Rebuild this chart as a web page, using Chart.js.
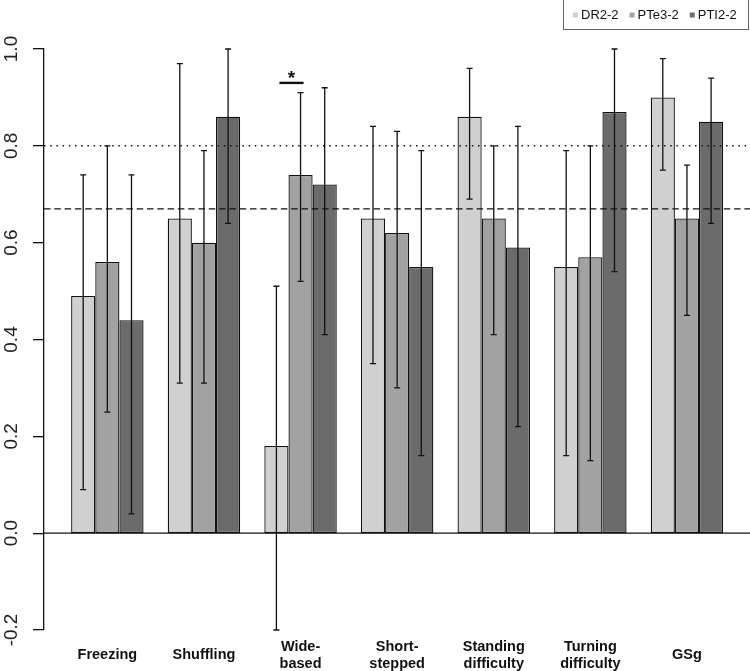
<!DOCTYPE html>
<html>
<head>
<meta charset="utf-8">
<script src="https://cdn.jsdelivr.net/npm/chart.js@4.4.1/dist/chart.umd.min.js"></script>
<style>
html, body { margin: 0; padding: 0; background: #fff; }
#wrap { width: 750px; height: 671px; position: relative; }
</style>
</head>
<body>
<div id="wrap"><canvas id="gaitChart"></canvas></div>
<script>
const categories = ['Freezing', 'Shuffling', ['Wide-', 'based'], ['Short-', 'stepped'], ['Standing', 'difficulty'], ['Turning', 'difficulty'], 'GSg']
const seriesNames = ['DR2-2', 'PTe3-2', 'PTI2-2']
const seriesColors = ['#d0d0d0', '#a2a2a2', '#6b6b6b']

const dr = [0.49, 0.65, 0.18, 0.65, 0.86, 0.55, 0.90]
const drLow = [0.09, 0.31, -0.20, 0.35, 0.69, 0.16, 0.75]
const drHigh = [0.74, 0.97, 0.51, 0.84, 0.96, 0.79, 0.98]

const pte = [0.56, 0.60, 0.74, 0.62, 0.65, 0.57, 0.65]
const pteLow = [0.25, 0.31, 0.52, 0.30, 0.41, 0.15, 0.45]
const pteHigh = [0.80, 0.79, 0.91, 0.83, 0.80, 0.80, 0.76]

const pti = [0.44, 0.86, 0.72, 0.55, 0.59, 0.87, 0.85]
const ptiLow = [0.04, 0.64, 0.41, 0.16, 0.22, 0.54, 0.64]
const ptiHigh = [0.74, 1.00, 0.92, 0.79, 0.84, 1.00, 0.94]

const yTicks = [-0.2, 0, 0.2, 0.4, 0.6, 0.8, 1.0]
const yTickLabels = ['-0.2', '0.0', '0.2', '0.4', '0.6', '0.8', '1.0']

const dottedLevel = 0.8
const dashedLevel = 0.67

// significance bracket: group, first bar, second bar, level, mark
const sigGroup = 2
const sigBars = [0, 1]
const sigLevel = 0.93
const sigMark = '*'

const values = [dr, pte, pti]
const lows = [drLow, pteLow, ptiLow]
const highs = [drHigh, pteHigh, ptiHigh]

const ink = '#111'

const overlay = {
	id: 'overlay',
	afterDatasetsDraw(chart) {
		const { ctx, chartArea, scales } = chart
		const y = scales.y
		ctx.save()
		ctx.strokeStyle = ink

		// zero line
		ctx.lineWidth = 1.3
		ctx.beginPath()
		ctx.moveTo(chartArea.left, y.getPixelForValue(0))
		ctx.lineTo(chartArea.right, y.getPixelForValue(0))
		ctx.stroke()

		// reference lines
		ctx.lineWidth = 1.5
		ctx.setLineDash([1.5, 4.7])
		ctx.beginPath()
		ctx.moveTo(chartArea.left, y.getPixelForValue(dottedLevel))
		ctx.lineTo(chartArea.right, y.getPixelForValue(dottedLevel))
		ctx.stroke()
		ctx.lineWidth = 1.3
		ctx.setLineDash([6.5, 3.8])
		ctx.beginPath()
		ctx.moveTo(chartArea.left, y.getPixelForValue(dashedLevel))
		ctx.lineTo(chartArea.right, y.getPixelForValue(dashedLevel))
		ctx.stroke()
		ctx.setLineDash([])

		// error bars
		ctx.lineWidth = 1.3
		values.forEach((vals, i) => {
			const meta = chart.getDatasetMeta(i)
			meta.data.forEach((bar, j) => {
				const top = y.getPixelForValue(highs[i][j])
				const bot = y.getPixelForValue(lows[i][j])
				ctx.beginPath()
				ctx.moveTo(bar.x, top)
				ctx.lineTo(bar.x, bot)
				ctx.moveTo(bar.x - 3, top)
				ctx.lineTo(bar.x + 3, top)
				ctx.moveTo(bar.x - 3, bot)
				ctx.lineTo(bar.x + 3, bot)
				ctx.stroke()
			})
		})

		// significance
		const a = chart.getDatasetMeta(sigBars[0]).data[sigGroup]
		const b = chart.getDatasetMeta(sigBars[1]).data[sigGroup]
		const sy = y.getPixelForValue(sigLevel)
		ctx.lineWidth = 2.4
		ctx.beginPath()
		ctx.moveTo(a.x + 3, sy)
		ctx.lineTo(b.x + 3, sy)
		ctx.stroke()
		ctx.fillStyle = ink
		ctx.font = 'bold 19px "Liberation Sans", Arial, sans-serif'
		ctx.textAlign = 'center'
		ctx.textBaseline = 'alphabetic'
		ctx.fillText(sigMark, (a.x + b.x) / 2 + 3, sy + 1)
		ctx.restore()
	},
	afterDraw(chart) {
		const { ctx, scales } = chart
		const y = scales.y
		ctx.save()

		// rotated y tick labels
		ctx.fillStyle = '#222'
		ctx.font = '19px "Liberation Sans", Arial, sans-serif'
		ctx.textAlign = 'center'
		ctx.textBaseline = 'alphabetic'
		yTicks.forEach((v, k) => {
			ctx.save()
			ctx.translate(17, y.getPixelForValue(v))
			ctx.rotate(-Math.PI / 2)
			ctx.fillText(yTickLabels[k], 0, 0)
			ctx.restore()
		})

		// legend
		ctx.strokeStyle = '#666'
		ctx.lineWidth = 1
		ctx.strokeRect(563.5, -1, 185, 30.5)
		ctx.font = '13px "Liberation Sans", Arial, sans-serif'
		ctx.textAlign = 'left'
		ctx.textBaseline = 'middle'
		let lx = 573
		chart.data.datasets.forEach(ds => {
			ctx.fillStyle = ds.backgroundColor
			ctx.fillRect(lx, 12.5, 5, 5)
			ctx.fillStyle = ink
			ctx.fillText(ds.label, lx + 8, 15.5)
			lx += 8 + ctx.measureText(ds.label).width + 11
		})
		ctx.restore()
	}
}

const toPoints = arr => arr.map((v, i) => ({ x: i, y: v }))

new Chart(document.getElementById('gaitChart'), {
	type: 'bar',
	data: {
		datasets: seriesNames.map((name, i) => ({
			label: name,
			data: toPoints(values[i]),
			backgroundColor: seriesColors[i],
			borderColor: ink,
			borderWidth: 1.3,
			borderSkipped: false,
			categoryPercentage: 0.75,
			barPercentage: 1.0,
		})),
	},
	options: {
		responsive: true,
		maintainAspectRatio: false,
		animation: false,
		layout: {
			padding: { top: 49, left: 33, right: 0, bottom: 0 },
		},
		plugins: {
			legend: { display: false },
			tooltip: { enabled: false },
		},
		scales: {
			x: {
				type: 'linear',
				offset: false,
				min: -0.6558,
				max: 6.6527,
				grid: { display: true, drawOnChartArea: false, color: 'transparent', tickLength: 26 },
				border: { display: false },
				ticks: {
					stepSize: 1,
					includeBounds: false,
					autoSkip: false,
					maxRotation: 0,
					minRotation: 0,
					crossAlign: 'center',
					padding: -9,
					color: ink,
					font: { family: '"Liberation Sans", Arial, sans-serif', size: 14.5, weight: 'bold', lineHeight: '16.5px' },
					callback: v => Number.isInteger(v) ? categories[v] : '',
				},
			},
			y: {
				min: -0.2,
				max: 1.0,
				border: { display: true, color: ink, width: 1.3 },
				grid: { drawOnChartArea: false, tickLength: 11, color: ink, lineWidth: 1.3 },
				ticks: { display: false, stepSize: 0.2 },
			},
		},
	},
	plugins: [overlay],
})
</script>
</body>
</html>
